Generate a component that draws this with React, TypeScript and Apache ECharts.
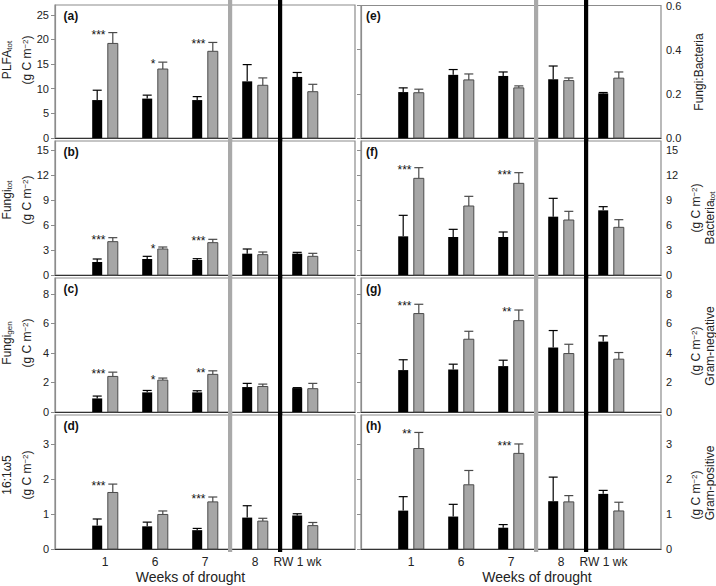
import React, { useEffect, useRef } from 'react';
import * as echarts from 'echarts';

const FONT = '"Liberation Sans", Arial, Helvetica, sans-serif';

// Categories (weeks of drought + rewetting)
const groups = ['1', '6', '7', '8', 'RW 1 wk'];

// (a) PLFA tot
const aBlack = [7.7, 8.0, 7.7, 11.5, 12.4];
const aBlackSE = [2.0, 0.7, 0.7, 3.4, 0.9];
const aGray = [19.2, 14.0, 17.6, 10.7, 9.4];
const aGraySE = [2.2, 1.4, 1.8, 1.5, 1.5];
const aStars = ['***', '*', '***', '', ''];
const aTicks = [0, 5, 10, 15, 20, 25];

// (b) Fungi tot
const bBlack = [1.56, 1.92, 1.8, 2.56, 2.56];
const bBlackSE = [0.36, 0.32, 0.16, 0.56, 0.16];
const bGray = [4.0, 3.12, 3.88, 2.44, 2.24];
const bGraySE = [0.48, 0.24, 0.4, 0.32, 0.36];
const bStars = ['***', '*', '***', '', ''];
const bTicks = [0, 3, 6, 9, 12, 15];

// (c) Fungi gen
const cBlack = [0.92, 1.33, 1.33, 1.69, 1.62];
const cBlackSE = [0.16, 0.13, 0.11, 0.25, 0.03];
const cGray = [2.41, 2.16, 2.55, 1.73, 1.58];
const cGraySE = [0.29, 0.14, 0.24, 0.16, 0.36];
const cStars = ['***', '*', '**', '', ''];
const cTicks = [0, 2, 4, 6, 8];

// (d) 16:1w5
const dBlack = [0.67, 0.65, 0.54, 0.9, 0.96];
const dBlackSE = [0.19, 0.12, 0.05, 0.34, 0.05];
const dGray = [1.62, 0.99, 1.35, 0.8, 0.67];
const dGraySE = [0.24, 0.1, 0.14, 0.08, 0.09];
const dStars = ['***', '', '***', '', ''];
const dTicks = [0, 1, 2, 3];

// (e) Fungi:Bacteria
const eBlack = [0.208, 0.286, 0.281, 0.266, 0.202];
const eBlackSE = [0.019, 0.024, 0.018, 0.06, 0.004];
const eGray = [0.205, 0.263, 0.227, 0.26, 0.271];
const eGraySE = [0.016, 0.027, 0.009, 0.012, 0.028];
const eStars = ['', '', '', '', ''];
const eTicks = [0, 0.2, 0.4, 0.6];

// (f) Bacteria tot
const fBlack = [4.64, 4.56, 4.56, 7.0, 7.76];
const fBlackSE = [2.52, 0.92, 0.6, 2.2, 0.44];
const fGray = [11.6, 8.28, 11.0, 6.6, 5.72];
const fGraySE = [1.28, 1.16, 1.28, 1.04, 0.92];
const fStars = ['***', '', '***', '', ''];
const fTicks = [0, 3, 6, 9, 12, 15];

// (g) Gram-negative
const gBlack = [2.84, 2.88, 3.11, 4.37, 4.77];
const gBlackSE = [0.7, 0.36, 0.4, 1.15, 0.39];
const gGray = [6.67, 4.93, 6.19, 3.96, 3.58];
const gGraySE = [0.63, 0.54, 0.72, 0.63, 0.45];
const gStars = ['***', '', '**', '', ''];
const gTicks = [0, 2, 4, 6, 8];

// (h) Gram-positive
const hBlack = [1.1, 0.93, 0.61, 1.37, 1.58];
const hBlackSE = [0.4, 0.35, 0.09, 0.69, 0.1];
const hGray = [2.88, 1.84, 2.74, 1.35, 1.09];
const hGraySE = [0.46, 0.41, 0.27, 0.18, 0.25];
const hStars = ['**', '', '***', '', ''];
const hTicks = [0, 1, 2, 3];

// Vertical separators (between 7 and 8, between 8 and RW)
const separators = [3.5, 4.5];

const panels = [
  { label: '(a)', col: 0, row: 0, max: 27, ticks: aTicks, dec: 0, black: aBlack, blackSE: aBlackSE, gray: aGray, graySE: aGraySE, stars: aStars },
  { label: '(b)', col: 0, row: 1, max: 16.08, ticks: bTicks, dec: 0, black: bBlack, blackSE: bBlackSE, gray: bGray, graySE: bGraySE, stars: bStars },
  { label: '(c)', col: 0, row: 2, max: 9.08, ticks: cTicks, dec: 0, black: cBlack, blackSE: cBlackSE, gray: cGray, graySE: cGraySE, stars: cStars },
  { label: '(d)', col: 0, row: 3, max: 3.84, ticks: dTicks, dec: 0, black: dBlack, blackSE: dBlackSE, gray: dGray, graySE: dGraySE, stars: dStars },
  { label: '(e)', col: 1, row: 0, max: 0.6, ticks: eTicks, dec: 1, black: eBlack, blackSE: eBlackSE, gray: eGray, graySE: eGraySE, stars: eStars },
  { label: '(f)', col: 1, row: 1, max: 16.08, ticks: fTicks, dec: 0, black: fBlack, blackSE: fBlackSE, gray: fGray, graySE: fGraySE, stars: fStars },
  { label: '(g)', col: 1, row: 2, max: 9.08, ticks: gTicks, dec: 0, black: gBlack, blackSE: gBlackSE, gray: gGray, graySE: gGraySE, stars: gStars },
  { label: '(h)', col: 1, row: 3, max: 3.84, ticks: hTicks, dec: 0, black: hBlack, blackSE: hBlackSE, gray: hGray, graySE: hGraySE, stars: hStars },
];

const COL_LEFT = [55, 361];
const COL_W = 300;
const ROW_TOP = [5, 141, 278, 415];
const ROW_H = [133, 134, 134, 134];
const FRAME = '#8c8c8c';
const TXT = '#222';

const rich = {
  n: { fontSize: 12, fontFamily: FONT, fill: TXT, color: TXT },
  s: { fontSize: 8, fontFamily: FONT, fill: TXT, color: TXT, verticalAlign: 'bottom' },
  p: { fontSize: 8, fontFamily: FONT, fill: TXT, color: TXT, verticalAlign: 'top' },
};
const unitText = '{n|(g C m}{p|−2}{n|)}';

const yTitles = [
  { x: 7, y: 60, t: '{n|PLFA}{s|tot}' },
  { x: 27, y: 60, t: unitText },
  { x: 7, y: 200, t: '{n|Fungi}{s|tot}' },
  { x: 27, y: 200, t: unitText },
  { x: 7, y: 343, t: '{n|Fungi}{s|gen}' },
  { x: 27, y: 343, t: unitText },
  { x: 7, y: 475, t: '{n|16:1ω5}' },
  { x: 27, y: 475, t: unitText },
  { x: 699, y: 72, t: '{n|Fungi:Bacteria}' },
  { x: 696, y: 208, t: unitText },
  { x: 710, y: 218, t: '{n|Bacteria}{s|tot}' },
  { x: 696, y: 351, t: unitText },
  { x: 710, y: 346, t: '{n|Gram-negative}' },
  { x: 696, y: 495, t: unitText },
  { x: 710, y: 483, t: '{n|Gram-positive}' },
];

export default function App() {
  const ref = useRef<HTMLDivElement>(null);
  useEffect(() => {
    if (!ref.current) return;
    const chart = echarts.init(ref.current, null, { renderer: 'svg' });
    const grid: any[] = [];
    const xAxis: any[] = [];
    const yAxis: any[] = [];
    const series: any[] = [];
    const graphic: any[] = [];

    panels.forEach((p, i) => {
      grid.push({
        left: COL_LEFT[p.col], top: ROW_TOP[p.row], width: COL_W, height: ROW_H[p.row],
        show: true, borderColor: FRAME, borderWidth: 1.2, backgroundColor: 'transparent',
      });
      xAxis.push({
        type: 'value', gridIndex: i, min: 0, max: 6, interval: 1,
        axisLine: { show: true, lineStyle: { color: '#333', width: 1.2 } },
        axisTick: { show: false },
        splitLine: { show: false },
        axisLabel: {
          show: p.row === 3, fontSize: 12, fontFamily: FONT, color: TXT, margin: 7,
          formatter: (v: number) => (v === 5 ? '{rw|RW 1 wk}' : v >= 1 && v <= 4 ? groups[v - 1] : ''),
          rich: { rw: { fontSize: 12, fontFamily: FONT, color: TXT, padding: [0, 15, 0, 0] } },
        },
      });
      const interval = p.ticks[1] - p.ticks[0];
      yAxis.push({
        type: 'value', gridIndex: i, min: 0, max: p.max, interval,
        position: p.col === 0 ? 'left' : 'right',
        axisLine: { show: true, lineStyle: { color: FRAME, width: 1.2 } },
        axisTick: { show: true, inside: p.col === 1, length: 4, lineStyle: { color: FRAME, width: 1 }, customValues: p.ticks },
        splitLine: { show: false },
        axisLabel: {
          fontSize: 11, fontFamily: FONT, color: TXT, margin: p.col === 0 ? 6 : 5,
          customValues: p.ticks,
          formatter: (v: number) => {
            const k = v / interval;
            if (Math.abs(k - Math.round(k)) > 1e-6) return '';
            return v.toFixed(p.dec);
          },
        },
      });

      // separators
      series.push({
        type: 'custom', xAxisIndex: i, yAxisIndex: i, z: 1, silent: true,
        data: separators.map((s, k) => [s, k]),
        encode: { x: 0 },
        renderItem: (params: any, api: any) => {
          const x = api.value(0);
          const k = api.value(1);
          const top = api.coord([x, p.max]);
          const bot = api.coord([x, 0]);
          const extTop = p.row === 0 ? 6 : 3;
          return {
            type: 'rect',
            shape: { x: top[0] - 2, y: top[1] - extTop, width: 4.2, height: bot[1] - top[1] + extTop + 3 },
            style: { fill: k === 0 ? '#a9a9a9' : '#000' },
          };
        },
      });

      // bars + error bars + significance stars
      series.push({
        type: 'custom', xAxisIndex: i, yAxisIndex: i, z: 3, silent: true,
        data: groups.map((g, k) => [k + 1, p.black[k], p.blackSE[k], p.gray[k], p.graySE[k]]),
        encode: { x: 0, y: 1 },
        renderItem: (params: any, api: any) => {
          const x = api.value(0);
          const base = api.coord([x, 0]);
          const unit = api.size([1, 0])[0];
          const bw = unit * 0.2;
          const off = unit * 0.156;
          const children: any[] = [];
          const bars = [
            { v: api.value(1), se: api.value(2), side: -1, fill: '#000', err: '#000', stroke: null },
            { v: api.value(3), se: api.value(4), side: 1, fill: '#a6a6a6', err: '#4a4a4a', stroke: '#4a4a4a' },
          ];
          let grayErrY = base[1];
          bars.forEach((b) => {
            const cx = base[0] + b.side * off;
            const yTop = api.coord([x, b.v])[1];
            const yErr = api.coord([x, b.v + b.se])[1];
            if (b.side === 1) grayErrY = yErr;
            children.push({ type: 'line', shape: { x1: cx, y1: yTop, x2: cx, y2: yErr }, style: { stroke: b.err, lineWidth: 1.2 } });
            children.push({ type: 'line', shape: { x1: cx - 4.5, y1: yErr, x2: cx + 4.5, y2: yErr }, style: { stroke: b.err, lineWidth: 1.2 } });
            children.push({
              type: 'rect',
              shape: { x: cx - bw / 2, y: yTop, width: bw, height: base[1] - yTop },
              style: b.stroke ? { fill: b.fill, stroke: b.stroke, lineWidth: 1 } : { fill: b.fill },
            });
          });
          const star = p.stars[params.dataIndex];
          if (star) {
            children.push({
              type: 'text',
              x: base[0] + 0.5, y: grayErrY + 2,
              style: { text: star, font: `12px ${FONT}`, fill: '#111', align: 'right', verticalAlign: 'middle' },
            });
          }
          return { type: 'group', children };
        },
      });

      graphic.push({
        type: 'text',
        x: p.col === 0 ? 63.5 : 366,
        y: ROW_TOP[p.row] + 11,
        style: { text: p.label, font: `bold 12px ${FONT}`, fill: '#111', verticalAlign: 'middle' },
        z: 10,
      });
    });

    yTitles.forEach((t) => {
      graphic.push({
        type: 'text', x: t.x, y: t.y, rotation: Math.PI / 2,
        style: { text: t.t, rich, align: 'center', verticalAlign: 'middle', fill: TXT, font: `12px ${FONT}` },
        z: 10,
      });
    });

    graphic.push({ type: 'text', x: 190.5, y: 577, style: { text: 'Weeks of drought', font: `14px ${FONT}`, fill: TXT, align: 'center', verticalAlign: 'middle' } });
    graphic.push({ type: 'text', x: 537, y: 577, style: { text: 'Weeks of drought', font: `14px ${FONT}`, fill: TXT, align: 'center', verticalAlign: 'middle' } });

    chart.setOption({
      animation: false,
      backgroundColor: '#fff',
      grid, xAxis, yAxis, series, graphic,
    });
    return () => chart.dispose();
  }, []);
  return <div ref={ref} style={{ position: 'fixed', left: 0, top: 0, width: 716, height: 586 }} />;
}
